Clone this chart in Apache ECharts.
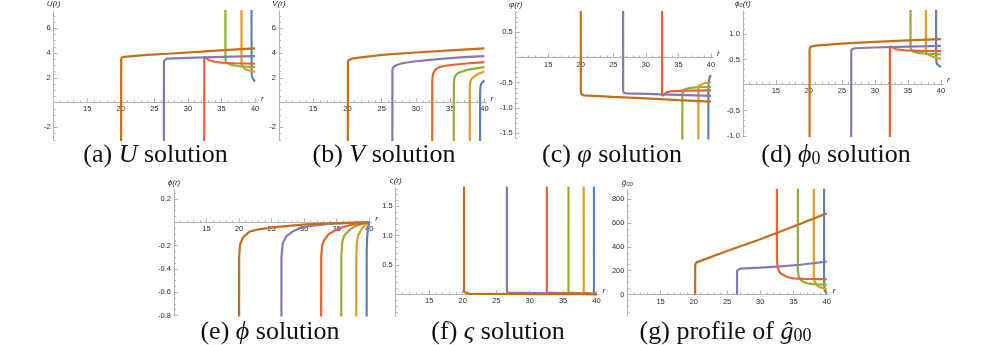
<!DOCTYPE html>
<html>
<head>
<meta charset="utf-8">
<script src="https://cdn.jsdelivr.net/npm/echarts@6/dist/echarts.min.js"></script>
<style>
html,body{margin:0;padding:0;background:#fff}
#chart{width:996px;height:345px}
</style>
</head>
<body>
<div id="chart"></div>
<script>
// curve order: blue, orange, green, red, purple, brown
var colors = ['#5E81B5', '#E19C24', '#8FB032', '#EB6235', '#8778B3', '#C56E1A'];
var xTicks = [15, 20, 25, 30, 35, 40];

// (a) U(r)
var U = [
    [[39.47,10],[39.48,2.6],[39.52,2.2],[39.6,2.0],[39.75,1.85],[39.9,1.76],[40,1.72]],
    [[37.97,10],[37.98,3.3],[38.02,3.0],[38.15,2.85],[38.5,2.72],[39,2.62],[39.5,2.54],[40,2.47]],
    [[35.58,10],[35.59,3.5],[35.65,3.25],[35.85,3.12],[36.5,3.03],[37.5,2.96],[38.5,2.92],[40,2.87]],
    [[32.42,-5],[32.43,3.72],[32.5,3.8],[32.7,3.6],[33.2,3.42],[34,3.3],[35.2,3.22],[37,3.18],[40,3.14]],
    [[26.42,-5],[26.43,3.35],[26.5,3.5],[26.8,3.55],[30,3.62],[35,3.69],[40,3.75]],
    [[20.05,-5],[20.06,3.45],[20.15,3.62],[20.5,3.7],[24,3.85],[27,3.95],[32,4.12],[36,4.26],[40,4.38]]
];
// (b) V(r)
var V = [
    [[39.36,-5],[39.37,0.9],[39.42,1.3],[39.55,1.55],[39.75,1.7],[40,1.8]],
    [[37.85,-5],[37.86,1.3],[37.95,1.7],[38.2,1.98],[38.6,2.15],[39.2,2.35],[40,2.52]],
    [[35.52,-5],[35.53,1.6],[35.62,2.0],[35.9,2.3],[36.4,2.46],[37.5,2.65],[38.7,2.77],[40,2.87]],
    [[32.37,-5],[32.38,1.8],[32.48,2.3],[32.8,2.65],[33.4,2.87],[34.5,3.0],[35.8,3.08],[37.8,3.18],[40,3.27]],
    [[26.55,-5],[26.56,2.6],[26.65,2.85],[27,3.0],[28,3.18],[29.7,3.32],[32,3.45],[34.6,3.58],[37,3.67],[40,3.75]],
    [[20.05,-5],[20.06,3.25],[20.15,3.42],[20.6,3.55],[22,3.65],[25,3.85],[30,4.05],[35,4.22],[40,4.38]]
];
// (c) varphi(r)
var VARPHI = [
    [[39.6,-3],[39.61,-0.6],[39.65,-0.5],[39.72,-0.44],[39.85,-0.38],[40,-0.35]],
    [[38.07,-3],[38.08,-0.62],[38.15,-0.56],[38.4,-0.53],[39,-0.51],[40,-0.49]],
    [[35.6,-3],[35.61,-0.74],[35.7,-0.67],[36,-0.63],[36.8,-0.6],[38,-0.59],[40,-0.58]],
    [[32.48,3],[32.49,-0.7],[32.52,-0.76],[32.7,-0.74],[33.2,-0.69],[34,-0.665],[36,-0.655],[40,-0.65]],
    [[26.5,3],[26.51,-0.66],[26.6,-0.7],[27,-0.71],[30,-0.72],[35,-0.74],[40,-0.76]],
    [[20,3],[20.01,-0.68],[20.1,-0.73],[20.5,-0.75],[25,-0.78],[30,-0.81],[35,-0.845],[40,-0.875]]
];
// (d) phi0(r)
var PHI0 = [
    [[39.25,3],[39.26,0.52],[39.32,0.44],[39.45,0.4],[39.7,0.37],[40,0.35]],
    [[37.7,3],[37.71,0.66],[37.8,0.61],[38.1,0.58],[38.8,0.55],[40,0.51]],
    [[35.38,3],[35.39,0.75],[35.45,0.7],[35.7,0.66],[36.5,0.63],[38,0.61],[40,0.6]],
    [[32.25,-3],[32.26,0.72],[32.35,0.76],[32.6,0.73],[33.2,0.7],[34.5,0.68],[37,0.67],[40,0.665]],
    [[26.4,-3],[26.41,0.66],[26.5,0.7],[27,0.72],[30,0.735],[35,0.75],[40,0.765]],
    [[20.1,-3],[20.11,0.7],[20.25,0.75],[21,0.77],[25,0.81],[30,0.845],[35,0.875],[40,0.9]]
];
// (e) phi(r)
var PHI = [
    [[39.6,-2],[39.61,-0.25],[39.68,-0.12],[39.8,-0.06],[39.9,-0.03],[40,0]],
    [[38.0,-2],[38.01,-0.3],[38.1,-0.17],[38.3,-0.11],[38.75,-0.066],[39.3,-0.03],[40,0]],
    [[35.7,-2],[35.71,-0.3],[35.85,-0.17],[36.1,-0.12],[36.45,-0.095],[37.2,-0.055],[38,-0.03],[39,-0.012],[40,0]],
    [[32.6,-2],[32.61,-0.3],[32.75,-0.2],[33.1,-0.15],[33.8,-0.1],[34.9,-0.066],[36,-0.04],[37.4,-0.02],[40,0]],
    [[26.5,-2],[26.51,-0.3],[26.7,-0.18],[27.26,-0.12],[28.2,-0.08],[29.3,-0.05],[31,-0.03],[33.4,-0.015],[36,-0.007],[40,0]],
    [[20.0,-2],[20.01,-0.3],[20.15,-0.19],[20.6,-0.13],[21.6,-0.08],[23,-0.06],[25.2,-0.043],[28,-0.028],[30.3,-0.017],[35,-0.007],[40,0]]
];
// (f) varsigma(r)
var SIGMA = [
    [[39.6,3],[39.61,0.03],[39.66,0.005],[40,0.004]],
    [[38.07,3],[38.08,0.03],[38.13,0.005],[40,0.004]],
    [[35.8,3],[35.81,0.03],[35.86,0.005],[40,0.004]],
    [[32.56,3],[32.57,0.03],[32.62,0.005],[40,0.004]],
    [[26.6,3],[26.61,0.03],[26.66,0.005],[40,0.004]],
    [[20.2,3],[20.21,0.04],[20.35,0.012],[21,0.007],[30,0.005],[40,0.004]]
];
// (g) g00 hat
var G00 = [
    [[39.6,2000],[39.61,80],[39.7,40],[39.85,20],[40,10]],
    [[38.05,2000],[38.06,150],[38.2,105],[38.5,80],[38.9,62],[39.5,52],[40,46]],
    [[35.65,2000],[35.66,200],[35.8,150],[36.1,120],[36.6,103],[37.1,94],[38,87],[40,80]],
    [[32.5,2000],[32.51,300],[32.6,234],[32.8,195],[33.1,175],[33.4,164],[34.2,145],[34.9,136],[36.5,131],[40,128]],
    [[26.5,0],[26.51,200],[26.6,212],[27,218],[30,225],[33,236],[36,250],[40,276]],
    [[20.2,0],[20.21,250],[20.4,270],[25,365],[30,465],[35,572],[40,682]]
];

var panels = [
    {data: U,      box: [53.6, 9.8, 203.5, 130],   y: [-3, 7.4],    yTicks: [-2, 2, 4, 6],              yMinor: 0.5,  dec: 0, yName: 'U(r)', title: '(a) {i|U} solution',   tx: 155.5, ty: 155},
    {data: V,      box: [279, 9.8, 207.5, 130],    y: [-3, 7.4],    yTicks: [-2, 2, 4, 6],              yMinor: 0.5,  dec: 0, yName: 'V(r)', title: '(b) {i|V} solution',   tx: 384,   ty: 155},
    {data: VARPHI, box: [515.7, 12, 197.2, 126.3], y: [-1.6, 0.9],  yTicks: [-1.5, -1, -0.5, 0.5],      yMinor: 0.1,  dec: 1, yName: 'φ(r)', title: '(c) {i|φ} solution',   tx: 612,   ty: 155},
    {data: PHI0,   box: [742.8, 8.6, 200.2, 127.4],y: [-1, 1.45],   yTicks: [-1, -0.5, 0.5, 1],         yMinor: 0.1,  dec: 1, yName: 'ϕ₀(r)', title: '(d) {i|ϕ}{sub|0} solution', tx: 836, ty: 155},
    {data: PHI,    box: [174, 189.7, 197.2, 125.8],y: [-0.8, 0.28], yTicks: [-0.8, -0.6, -0.4, -0.2, 0.2], yMinor: 0.05, dec: 1, yName: 'ϕ(r)', title: '(e) {i|ϕ} solution', tx: 270, ty: 332},
    {data: SIGMA,  box: [395.7, 187.6, 202.9, 129],y: [-0.38, 1.82],yTicks: [0.5, 1, 1.5],              yMinor: 0.1,  dec: 1, yName: 'ς(r)', title: '(f) {i|ς} solution',   tx: 498,   ty: 332},
    {data: G00,    box: [627.4, 189.8, 201.3, 126.1],y: [-180, 880],yTicks: [0, 200, 400, 600, 800],   yMinor: 50,   dec: 0, yName: 'ĝ₀₀',  title: '(g) profile of {i|ĝ}{sub|00}', tx: 725.5, ty: 332}
];

var axisGray = '#b4b4b4';
var labelStyle = {fontSize: 7.5, color: '#2a2a2a', fontFamily: 'Liberation Sans'};
var nameStyle = {fontSize: 8, color: '#2a2a2a', fontFamily: 'Liberation Sans', fontStyle: 'italic'};

function minorTicks(min, max, step, majorStep) {
    var out = [];
    for (var k = Math.ceil(min / step); k * step <= max; k++) {
        var v = Math.round(k * step * 10000) / 10000;
        var q = v / majorStep;
        if (Math.abs(q - Math.round(q)) > 1e-6) out.push(v);
    }
    return out;
}

var grid = [], xAxis = [], yAxis = [], series = [], graphic = [];
panels.forEach(function (p, i) {
    grid.push({left: p.box[0], top: p.box[1], width: p.box[2], height: p.box[3], containLabel: false});
    var major = p.yTicks.length > 1 ? Math.abs(p.yTicks[1] - p.yTicks[0]) : 1;
    var yMaj = p.yTicks.filter(function (v) { return v !== 0; });
    // lift the x axis from the grid bottom up to y = 0
    var lift = -(0 - p.y[0]) / (p.y[1] - p.y[0]) * p.box[3];
    // main x axis
    xAxis.push({
        type: 'value', gridIndex: i, min: 10, max: 40.3, position: 'bottom', offset: lift,
        axisLine: {onZero: false, lineStyle: {color: axisGray, width: 1}},
        axisTick: {show: true, inside: true, length: 4, customValues: xTicks, lineStyle: {color: axisGray}},
        axisLabel: {customValues: xTicks, margin: 3, fontSize: labelStyle.fontSize, color: labelStyle.color, fontFamily: labelStyle.fontFamily},
        splitLine: {show: false},
        name: 'r', nameLocation: 'end', nameGap: 4,
        nameTextStyle: {fontSize: nameStyle.fontSize, color: nameStyle.color, fontFamily: nameStyle.fontFamily, fontStyle: 'italic', verticalAlign: 'bottom'}
    });
    // minor x ticks
    xAxis.push({
        type: 'value', gridIndex: i, min: 10, max: 40.3, position: 'bottom', offset: lift,
        axisLine: {show: false, onZero: false},
        axisTick: {show: true, inside: true, length: 2, customValues: minorTicks(10, 40.3, 1, 5), lineStyle: {color: axisGray}},
        axisLabel: {show: false}, splitLine: {show: false}
    });
    yAxis.push({
        type: 'value', gridIndex: i, min: p.y[0], max: p.y[1], position: 'left',
        axisLine: {onZero: false, lineStyle: {color: axisGray, width: 1}},
        axisTick: {show: true, inside: true, length: 4, customValues: yMaj, lineStyle: {color: axisGray}},
        axisLabel: {customValues: p.yTicks, margin: 3, fontSize: labelStyle.fontSize, color: labelStyle.color, fontFamily: labelStyle.fontFamily,
            formatter: (function (d) { return function (v) { return v.toFixed(d); }; })(p.dec)},
        splitLine: {show: false},
        name: p.yName, nameLocation: 'end', nameGap: 3,
        nameTextStyle: {fontSize: nameStyle.fontSize, color: nameStyle.color, fontFamily: nameStyle.fontFamily, fontStyle: 'italic'}
    });
    yAxis.push({
        type: 'value', gridIndex: i, min: p.y[0], max: p.y[1], position: 'left',
        axisLine: {show: false, onZero: false},
        axisTick: {show: true, inside: true, length: 2, customValues: minorTicks(p.y[0], p.y[1], p.yMinor, major), lineStyle: {color: axisGray}},
        axisLabel: {show: false}, splitLine: {show: false}
    });
    p.data.forEach(function (curve, j) {
        series.push({
            type: 'line', xAxisIndex: 2 * i, yAxisIndex: 2 * i, data: curve,
            showSymbol: false, symbol: 'none', clip: true, silent: true,
            lineStyle: {color: colors[j], width: 2.2}, itemStyle: {color: colors[j]}
        });
    });
    graphic.push({
        type: 'text', x: p.tx, y: p.ty, silent: true,
        style: {
            text: p.title, align: 'center', verticalAlign: 'middle',
            fontFamily: 'Liberation Serif', fontSize: 26, fill: '#111',
            rich: {
                i: {fontFamily: 'Liberation Serif', fontSize: 26, fontStyle: 'italic', fill: '#111'},
                sub: {fontFamily: 'Liberation Serif', fontSize: 18, fill: '#111', verticalAlign: 'bottom'}
            }
        }
    });
});

var chart = echarts.init(document.getElementById('chart'), null, {renderer: 'canvas'});
chart.setOption({
    animation: false,
    backgroundColor: '#fff',
    grid: grid, xAxis: xAxis, yAxis: yAxis, series: series, graphic: graphic
});
</script>
</body>
</html>
